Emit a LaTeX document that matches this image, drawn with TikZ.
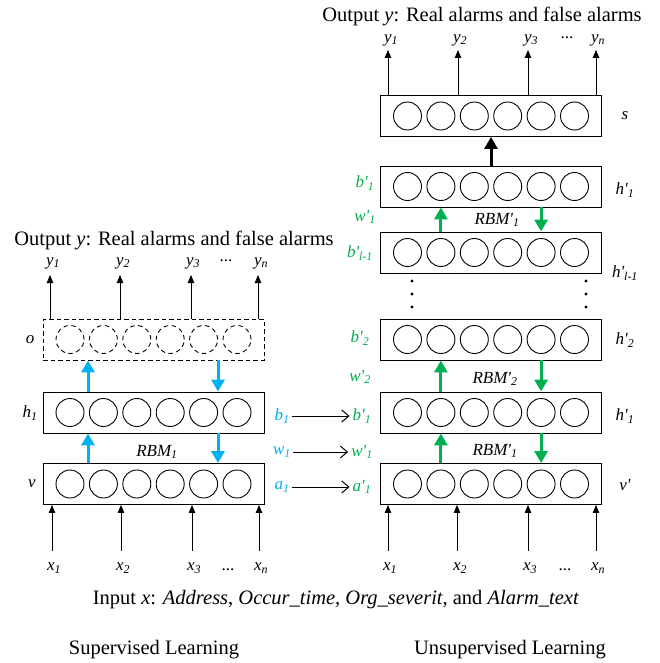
\documentclass[tikz,border=0pt]{standalone}
\usepackage{fontspec}
\setmainfont{Liberation Serif}
\usetikzlibrary{arrows.meta}
\definecolor{myblue}{RGB}{0,176,240}
\definecolor{mygreen}{RGB}{0,176,80}
\newcommand\lsub[1]{\textsubscript{\itshape #1}}
\newcommand\pr{\textquotesingle}
\newcommand\labsize{\fontsize{17}{20}\selectfont}
\newcommand\bigsize{\fontsize{20.5}{24}\selectfont}
\newcommand\mklayer[5]{%
  \node[#4] (#1) at (#2,#3) {};
  \foreach \i in {1,...,6} \node[#5] (#1-\i) at ({#2-116.9+33.4*\i},#3) {};
}
\begin{document}
\begin{tikzpicture}[x=1pt,y=-1pt,
  layerbox/.style={draw, line width=0.9pt, minimum width=221pt, minimum height=41pt, inner sep=0},
  dlayer/.style={layerbox, dash pattern=on 4.5pt off 3pt},
  neuron/.style={draw, circle, line width=0.9pt, minimum size=28pt, inner sep=0},
  dneuron/.style={neuron, dash pattern=on 4.5pt off 3.5pt},
  lab/.style={font=\labsize\itshape, inner sep=0},
  bluelab/.style={lab, text=myblue},
  greenlab/.style={lab, text=mygreen},
  big/.style={font=\bigsize, inner sep=0},
  thinarr/.style={line width=0.9pt, -{Triangle[length=8pt,width=6.5pt]}},
  bluearr/.style={myblue, line width=3pt, -{Triangle[length=12pt,width=13pt]}},
  greenarr/.style={mygreen, line width=3pt, -{Triangle[length=12pt,width=13pt]}},
  thickarr/.style={black, line width=3pt, -{Triangle[length=12pt,width=13pt]}},
  linkarr/.style={line width=1pt, -{Straight Barb[length=7pt,width=12pt]}}
]
\useasboundingbox (0,0) rectangle (659,663);

% ---------- left: supervised ----------
\mklayer{o}{153.5}{339.5}{dlayer}{dneuron}
\mklayer{hl}{153.5}{412.5}{layerbox}{neuron}
\mklayer{v}{153.5}{484}{layerbox}{neuron}

\node[big] (ltitle) at (174,240) {Output \textit{y}: Real alarms and false alarms};
\node[lab] (ly1) at (53,263) {y\lsub{1}};
\node[lab] (ly2) at (123,263) {y\lsub{2}};
\node[lab] (ly3) at (193,263) {y\lsub{3}};
\node[lab,font=\labsize] (lyd) at (226,261) {...};
\node[lab] (lyn) at (261,263) {y\lsub{n}};
\foreach \n/\xx in {1/50,2/120,3/191,4/258} {
  \coordinate (oy\n) at (\xx,275);
  \draw[thinarr] (o.north -| oy\n) -- (oy\n);
}
\node[lab] (lo) at (30,340) {o};
\node[lab] (lh) at (30,413) {h\lsub{1}};
\node[lab] (lv) at (32,484) {v};

\coordinate (bA) at (88,0);
\coordinate (bB) at (218,0);
\draw[bluearr] (hl.north -| bA) -- (o.south -| bA);
\draw[bluearr] (o.south -| bB) -- (hl.north -| bB);
\draw[bluearr] (v.north -| bA) -- (hl.south -| bA);
\draw[bluearr] (hl.south -| bB) -- (v.north -| bB);
\node[lab] (rbm1) at (157,452) {RBM\lsub{1}};

\foreach \n/\xx in {1/52,2/121,3/192,4/259} {
  \coordinate (lx\n) at (\xx,551);
  \draw[thinarr] (lx\n) -- (v.south -| lx\n);
}
\node[lab] (lx1l) at (54,568) {x\lsub{1}};
\node[lab] (lx2l) at (123,568) {x\lsub{2}};
\node[lab] (lx3l) at (194,568) {x\lsub{3}};
\node[lab,font=\labsize] (lxd) at (228,570) {...};
\node[lab] (lxnl) at (261,568) {x\lsub{n}};

% ---------- links ----------
\node[bluelab] (b1) at (282,416) {b\lsub{1}};
\node[bluelab] (w1) at (282,452) {w\lsub{1}};
\node[bluelab] (a1) at (282,487) {a\lsub{1}};
\node[greenlab] (b1p) at (362,416) {b\pr\lsub{1}};
\node[greenlab] (w1p) at (362,452) {w\pr\lsub{1}};
\node[greenlab] (a1p) at (362,487) {a\pr\lsub{1}};
\draw[linkarr, shorten <=2pt, shorten >=3pt] (b1.east) -- (b1.east -| b1p.west);
\draw[linkarr, shorten <=2pt, shorten >=3pt] (w1.east) -- (w1.east -| w1p.west);
\draw[linkarr, shorten <=2pt, shorten >=3pt] (a1.east) -- (a1.east -| a1p.west);

% ---------- right: unsupervised ----------
\mklayer{s}{491}{116}{layerbox}{neuron}
\mklayer{ht}{491}{186.5}{layerbox}{neuron}
\mklayer{hm}{491}{252.5}{layerbox}{neuron}
\mklayer{h2}{491}{339.5}{layerbox}{neuron}
\mklayer{hp}{491}{412.5}{layerbox}{neuron}
\mklayer{vp}{491}{484}{layerbox}{neuron}

\node[big] (rtitle) at (482,16) {Output \textit{y}: Real alarms and false alarms};
\node[lab] (ry1) at (391,40) {y\lsub{1}};
\node[lab] (ry2) at (460,40) {y\lsub{2}};
\node[lab] (ry3) at (531,40) {y\lsub{3}};
\node[lab,font=\labsize] (ryd) at (567,38) {...};
\node[lab] (ryn) at (598,40) {y\lsub{n}};
\foreach \n/\xx in {1/388,2/458,3/528,4/596} {
  \coordinate (sy\n) at (\xx,50);
  \draw[thinarr] (s.north -| sy\n) -- (sy\n);
}
\draw[thickarr] (ht.north) -- (s.south);

\node[lab] (ls) at (625,116) {s};
\node[lab] (lht) at (625,190) {h\pr\lsub{1}};
\node[lab] (lhm) at (625,273) {h\pr\lsub{l-1}};
\node[lab] (lh2) at (625,340) {h\pr\lsub{2}};
\node[lab] (lhp) at (625,416) {h\pr\lsub{1}};
\node[lab] (lvp) at (625,485) {v\pr};

\node[greenlab] (gbt) at (365,183) {b\pr\lsub{1}};
\node[greenlab] (gwt) at (365,217) {w\pr\lsub{1}};
\node[greenlab] (gbm) at (360,253) {b\pr\lsub{l-1}};
\node[greenlab] (gb2) at (360,338) {b\pr\lsub{2}};
\node[greenlab] (gw2) at (360,377) {w\pr\lsub{2}};

\draw[greenarr] (hm.north -| hm-2) -- (ht.south -| hm-2);
\draw[greenarr] (ht.south -| hm-5) -- (hm.north -| hm-5);
\draw[greenarr] (hp.north -| hp-2) -- (h2.south -| hp-2);
\draw[greenarr] (h2.south -| hp-5) -- (hp.north -| hp-5);
\draw[greenarr] (vp.north -| vp-2) -- (hp.south -| vp-2);
\draw[greenarr] (hp.south -| vp-5) -- (vp.north -| vp-5);
\node[lab] (rbmt) at (497,220) {RBM\pr\lsub{1}};
\node[lab] (rbm2) at (495,379) {RBM\pr\lsub{2}};
\node[lab] (rbmp) at (495,451) {RBM\pr\lsub{1}};

\foreach \yy in {281,294,307} {
  \fill (412,\yy) circle (1.6);
  \fill (586,\yy) circle (1.6);
}

\foreach \n/\xx in {1/388,2/457,3/528,4/596} {
  \coordinate (rx\n) at (\xx,551);
  \draw[thinarr] (rx\n) -- (vp.south -| rx\n);
}
\node[lab] (rx1l) at (390,568) {x\lsub{1}};
\node[lab] (rx2l) at (460,568) {x\lsub{2}};
\node[lab] (rx3l) at (530,568) {x\lsub{3}};
\node[lab,font=\labsize] (rxd) at (565,570) {...};
\node[lab] (rxnl) at (598,568) {x\lsub{n}};

% ---------- captions ----------
\node[big] (input) at (336,600) {Input \textit{x}: \textit{Address}, \textit{Occur\_time}, \textit{Org\_severit}, and \textit{Alarm\_text}};
\node[big] (sup) at (154,650) {Supervised Learning};
\node[big] (unsup) at (510,650) {Unsupervised Learning};
\end{tikzpicture}
\end{document}
